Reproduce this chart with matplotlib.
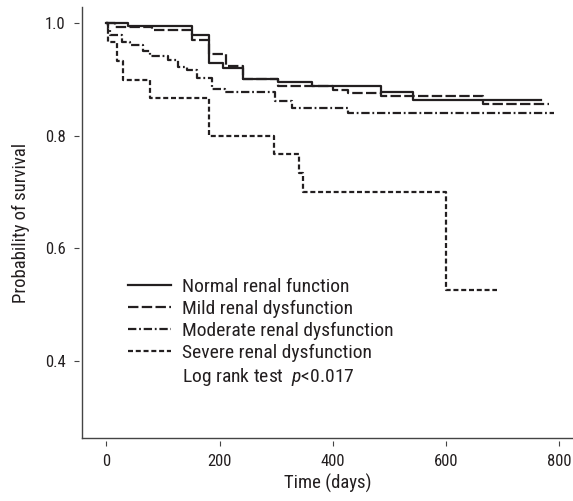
import matplotlib
matplotlib.use("Agg")
import matplotlib.pyplot as plt
from matplotlib.lines import Line2D

# Kaplan-Meier step data (days, survival probability)
normal_t = [0, 38, 151, 181, 206, 242, 304, 364, 485, 542, 768]
normal_s = [1.0, 0.996, 0.980, 0.929, 0.920, 0.901, 0.896, 0.888, 0.877, 0.864, 0.864]

mild_t = [0, 15, 81, 152, 181, 212, 242, 304, 400, 427, 485, 665, 783]
mild_s = [1.0, 0.993, 0.988, 0.970, 0.945, 0.924, 0.901, 0.888, 0.881, 0.876, 0.871, 0.856, 0.856]

moderate_t = [0, 3, 6, 27, 41, 65, 77, 109, 126, 142, 160, 186, 210, 298, 328, 427, 791]
moderate_s = [1.0, 0.990, 0.979, 0.967, 0.961, 0.950, 0.941, 0.935, 0.923, 0.917, 0.902,
              0.884, 0.878, 0.861, 0.849, 0.840, 0.840]

severe_t = [0, 3, 18, 30, 77, 181, 296, 341, 347, 600, 690]
severe_s = [1.0, 0.967, 0.933, 0.900, 0.867, 0.800, 0.767, 0.733, 0.700, 0.525, 0.525]

labels = ["Normal renal function", "Mild renal dysfunction",
          "Moderate renal dysfunction", "Severe renal dysfunction"]
x_ticks = [0, 200, 400, 600, 800]
y_ticks = [0.4, 0.6, 0.8, 1.0]

plt.rcParams['font.family'] = ['Roboto Condensed', 'DejaVu Sans']
plt.rcParams['font.stretch'] = 'condensed'
plt.rcParams['mathtext.fontset'] = 'custom'
plt.rcParams['mathtext.it'] = 'Roboto Condensed:italic'
plt.rcParams['mathtext.rm'] = 'Roboto Condensed'
plt.rcParams['lines.scale_dashes'] = False

ink = '#231f20'
fig = plt.figure(figsize=(5.73, 5.01), dpi=100)
ax = fig.add_axes([0.1426, 0.1251, 1 - 0.1426, 0.9866 - 0.1251])

styles = [
    dict(linestyle='-'),
    dict(linestyle=(0, (7.5, 2.4))),
    dict(linestyle=(0, (6.0, 2.0, 1.3, 2.0))),
    dict(linestyle=(0, (3.6, 2.0))),
]
series = [(normal_t, normal_s), (mild_t, mild_s),
          (moderate_t, moderate_s), (severe_t, severe_s)]
handles = []
for (t, s), st, lab in zip(series, styles, labels):
    h, = ax.step(t, s, where='post', color=ink, lw=1.6, label=lab, **st)
    handles.append(h)

# invisible handle so the log-rank note sits in the legend column
handles.append(Line2D([], [], color='none'))
leg_labels = labels + [r"Log rank test  $p$<0.017"]
leg = ax.legend(handles, leg_labels, loc='upper left',
                bbox_to_anchor=(128.3 / 573, 1 - 278 / 501),
                bbox_transform=fig.transFigure, frameon=False,
                fontsize=14, handlelength=2.2, handletextpad=0.55,
                labelspacing=0.2, borderpad=0, borderaxespad=0)
for txt in leg.get_texts():
    txt.set_color(ink)

ax.set_xlim(-43.8, 824.8)
ax.set_ylim(0.262, 1.0295)
ax.set_xticks(x_ticks)
ax.set_yticks(y_ticks)
ax.set_yticklabels([f"{v:.1f}" for v in y_ticks])

# ticks sit a little away from the axis lines
for side in ['left', 'bottom']:
    ax.spines[side].set_position(('outward', 2))
    ax.spines[side].set_visible(False)
for side in ['top', 'right']:
    ax.spines[side].set_visible(False)
ax.plot([0, 0], [0, 1], transform=ax.transAxes, color='#444444', lw=1.0, clip_on=False)
ax.plot([0, 1], [0, 0], transform=ax.transAxes, color='#444444', lw=1.0, clip_on=False)

ax.tick_params(direction='out', length=3.6, width=0.8, color='#444444',
               labelsize=12, labelcolor=ink, pad=6)

ax.set_xlabel("Time (days)", fontsize=13.5, color=ink, labelpad=3)
ax.set_ylabel("Probability of survival", fontsize=13.5, color=ink)
ax.yaxis.set_label_coords(-0.105, 0.5)

fig.savefig("out.png", dpi=100)
